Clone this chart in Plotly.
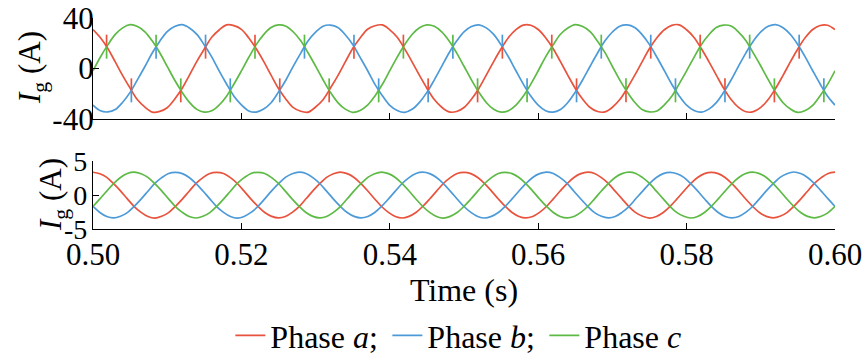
import numpy as np
import plotly.graph_objects as go

# ---------------- data ----------------
# Upper panel: grid current, 50 Hz, sampled every 1 ms from 0.50 s to 0.60 s
t_top = np.round(0.5 + np.arange(101) * 0.001, 4)

ia_top = [30.8, 24.3, 15.9, 5.2, -5.6, -15.5, -24.8, -30.6, -34.5, -34.0, -31.1, -24.3, -15.9, -5.2, 5.7, 15.4, 24.8, 30.5, 34.6, 34.0,
          31.0, 24.2, 15.6, 5.6, -5.3, -15.9, -24.3, -31.0, -33.9, -34.6, -30.5, -24.7, -15.5, -5.6, 5.2, 15.9, 24.2, 31.1, 33.9, 34.5,
          30.6, 24.7, 15.5, 5.3, -5.5, -15.6, -24.6, -30.7, -34.4, -34.1, -30.9, -24.4, -15.8, -5.3, 5.5, 15.6, 24.6, 30.8, 34.4, 34.3,
          30.9, 24.4, 15.8, 5.4, -5.4, -15.8, -24.4, -30.9, -34.1, -34.4, -30.7, -24.6, -15.6, -5.5, 5.3, 15.8, 24.4, 30.7, 34.2, 34.6,
          30.7, 24.6, 15.6, 5.5, -5.2, -15.7, -24.5, -30.8, -34.3, -34.2, -30.8, -24.5, -15.7, -5.4, 5.4, 15.7, 24.5, 30.9, 34.1, 34.3,
          30.8]
ib_top = [-29.0, -33.5, -34.4, -32.5, -26.7, -18.9, -8.8, 1.6, 12.5, 21.6, 29.2, 33.2, 34.7, 32.1, 27.0, 18.6, 9.2, -1.9, -12.3, -21.9,
          -28.8, -33.6, -34.5, -32.1, -27.1, -18.6, -9.1, 1.9, 12.2, 22.0, 28.8, 33.5, 34.4, 32.5, 26.7, 19.0, 8.8, -1.6, -12.6, -21.6,
          -29.2, -33.2, -34.7, -32.3, -26.8, -18.9, -9.0, 1.7, 12.5, 21.7, 29.1, 33.3, 34.6, 32.2, 27.0, 18.7, 9.1, -1.8, -12.4, -21.8,
          -29.0, -33.4, -34.5, -32.4, -26.9, -18.7, -8.9, 1.8, 12.3, 21.9, 28.9, 33.5, 34.5, 32.4, 26.8, 18.9, 8.9, -1.7, -12.5, -21.7,
          -29.1, -33.3, -34.6, -32.2, -27.0, -18.8, -9.1, 1.9, 12.4, 21.8, 29.0, 33.4, 34.7, 32.3, 26.9, 18.8, 9.0, -1.8, -12.3, -21.9,
          -29.0]
ic_top = [-1.8, 9.1, 18.7, 27.0, 32.2, 34.7, 33.3, 29.1, 21.7, 12.5, 1.7, -9.1, -18.7, -26.8, -32.4, -34.5, -33.5, -28.9, -21.9, -12.3,
          -1.9, 8.9, 18.9, 26.8, 32.4, 34.5, 33.5, 28.9, 21.9, 12.3, 1.9, -8.9, -18.9, -27.0, -32.2, -34.7, -33.3, -29.1, -21.7, -12.5,
          -1.7, 9.0, 18.8, 26.9, 32.3, 34.6, 33.4, 29.0, 21.8, 12.4, 1.8, -9.0, -18.8, -26.9, -32.3, -34.6, -33.4, -29.0, -21.8, -12.4,
          -1.8, 9.2, 18.6, 27.1, 32.1, 34.8, 33.2, 29.2, 21.6, 12.6, 1.6, -9.2, -18.6, -26.7, -32.5, -34.4, -33.6, -28.8, -22.0, -12.2,
          -1.9, 8.8, 19.0, 26.7, 32.5, 34.4, 33.6, 28.8, 22.0, 12.2, 2.0, -8.8, -19.0, -27.1, -32.1, -34.8, -33.2, -29.2, -21.6, -12.6,
          -1.8]

# switching spikes at the phase crossings of the upper panel
spike_t = [0.50183, 0.50517, 0.50850, 0.51183, 0.51517, 0.51850, 0.52183, 0.52517, 0.52850, 0.53183,
           0.53517, 0.53850, 0.54183, 0.54517, 0.54850, 0.55183, 0.55517, 0.55850, 0.56183, 0.56517,
           0.56850, 0.57183, 0.57517, 0.57850, 0.58183, 0.58517, 0.58850, 0.59183, 0.59517, 0.59850]
spike_level = [17.3, -17.3] * 15
spike_up = ["a", "a", "c", "c", "b", "b"] * 5     # phase whose spike points upward
spike_down = ["c", "b", "b", "a", "a", "c"] * 5   # phase whose spike points downward

# Lower panel: 60 Hz current, sampled every 1/1080 s from 0.50 s to 0.60 s
t_bot = np.linspace(0.5, 0.6, 109)
ia_bot = [3.35, 3.13, 2.59, 1.66, 0.60, -0.57, -1.70, -2.55, -3.17, -3.40, -3.13, -2.59, -1.66, -0.60, 0.56, 1.70, 2.55, 3.17,
          3.32, 3.16, 2.56, 1.69, 0.57, -0.60, -1.66, -2.58, -3.14, -3.36, -3.17, -2.55, -1.70, -0.56, 0.60, 1.66, 2.59, 3.13,
          3.37, 3.14, 2.58, 1.67, 0.59, -0.58, -1.69, -2.56, -3.16, -3.38, -3.14, -2.58, -1.67, -0.59, 0.57, 1.69, 2.56, 3.16,
          3.33, 3.15, 2.57, 1.68, 0.58, -0.59, -1.67, -2.57, -3.15, -3.37, -3.16, -2.56, -1.69, -0.57, 0.59, 1.67, 2.58, 3.14,
          3.36, 3.17, 2.55, 1.70, 0.56, -0.56, -1.70, -2.59, -3.13, -3.39, -3.15, -2.57, -1.68, -0.58, 0.58, 1.68, 2.57, 3.15,
          3.34, 3.14, 2.58, 1.67, 0.59, -0.59, -1.67, -2.58, -3.14, -3.35, -3.13, -2.59, -1.66, -0.60, 0.56, 1.70, 2.55, 3.17,
          3.35]
ib_bot = [-1.68, -2.57, -3.17, -3.37, -3.13, -2.59, -1.66, -0.60, 0.56, 1.70, 2.55, 3.17, 3.33, 3.15, 2.58, 1.67, 0.59, -0.57,
          -1.70, -2.55, -3.16, -3.39, -3.15, -2.56, -1.69, -0.57, 0.60, 1.66, 2.59, 3.13, 3.36, 3.16, 2.56, 1.69, 0.57, -0.60,
          -1.67, -2.58, -3.14, -3.36, -3.16, -2.57, -1.68, -0.59, 0.57, 1.69, 2.56, 3.16, 3.35, 3.14, 2.57, 1.68, 0.58, -0.58,
          -1.69, -2.56, -3.15, -3.38, -3.14, -2.58, -1.67, -0.58, 0.59, 1.67, 2.58, 3.14, 3.37, 3.17, 2.55, 1.70, 0.56, -0.59,
          -1.66, -2.59, -3.13, -3.35, -3.17, -2.55, -1.70, -0.56, 0.58, 1.68, 2.57, 3.15, 3.34, 3.13, 2.59, 1.66, 0.60, -0.56,
          -1.68, -2.57, -3.16, -3.36, -3.15, -2.56, -1.69, -0.57, 0.60, 1.66, 2.59, 3.13, 3.38, 3.15, 2.57, 1.68, 0.58, -0.58,
          -1.68]
ic_bot = [-1.68, -0.58, 0.58, 1.68, 2.57, 3.15, 3.36, 3.13, 2.59, 1.66, 0.60, -0.57, -1.70, -2.55, -3.17, -3.38, -3.13, -2.59,
          -1.66, -0.60, 0.56, 1.70, 2.55, 3.17, 3.33, 3.16, 2.56, 1.69, 0.57, -0.60, -1.66, -2.58, -3.14, -3.36, -3.17, -2.55,
          -1.70, -0.56, 0.60, 1.66, 2.59, 3.13, 3.37, 3.14, 2.58, 1.67, 0.59, -0.58, -1.69, -2.56, -3.16, -3.39, -3.14, -2.58,
          -1.67, -0.59, 0.57, 1.69, 2.56, 3.16, 3.34, 3.15, 2.57, 1.68, 0.58, -0.59, -1.67, -2.57, -3.15, -3.37, -3.16, -2.56,
          -1.69, -0.57, 0.59, 1.67, 2.58, 3.14, 3.35, 3.17, 2.55, 1.70, 0.56, -0.56, -1.70, -2.59, -3.13, -3.38, -3.15, -2.57,
          -1.68, -0.58, 0.58, 1.68, 2.57, 3.15, 3.36, 3.14, 2.58, 1.67, 0.59, -0.59, -1.67, -2.58, -3.14, -3.35, -3.13, -2.59,
          -1.68]

phases = ["a", "b", "c"]
names = ["Phase <i>a</i>;", "Phase <i>b</i>;", "Phase <i>c</i>"]
x_ticks = [0.50, 0.52, 0.54, 0.56, 0.58, 0.60]
x_ticktext = ["0.50", "0.52", "0.54", "0.56", "0.58", "0.60"]
y_top_ticks = [-40, 0, 40]
y_top_text = ["-40", "0", "40"]
y_bot_ticks = [-5, 0, 5]
y_bot_text = ["-5", "0", "5"]
y_title = "<i>I</i><sub>g</sub> (A)"
x_title = "Time (s)"

# ---------------- styling ----------------
colors = {"a": "#E8533D", "b": "#4D9AD8", "c": "#5DBA45"}
FONT = "Liberation Serif"
FS = 31
LW = 1.7
SPIKE_LEN = 9.5

fig = go.Figure()

top_series = {"a": ia_top, "b": ib_top, "c": ic_top}
bot_series = {"a": ia_bot, "b": ib_bot, "c": ic_bot}

for p, nm in zip(phases, names):
    fig.add_trace(go.Scatter(x=t_top, y=top_series[p], mode="lines", name=nm,
                             line=dict(color=colors[p], width=LW, shape="spline"),
                             xaxis="x", yaxis="y", showlegend=True, legendgroup=p))

# spikes
for p in phases:
    xs, ys = [], []
    for t, lev, up, dn in zip(spike_t, spike_level, spike_up, spike_down):
        if up == p:
            xs += [t, t, None]
            ys += [lev, lev + SPIKE_LEN, None]
        if dn == p:
            xs += [t, t, None]
            ys += [lev, lev - SPIKE_LEN, None]
    fig.add_trace(go.Scatter(x=xs, y=ys, mode="lines", showlegend=False,
                             line=dict(color=colors[p], width=LW),
                             xaxis="x", yaxis="y", legendgroup=p))

for p in phases:
    fig.add_trace(go.Scatter(x=t_bot, y=bot_series[p], mode="lines", showlegend=False,
                             line=dict(color=colors[p], width=LW, shape="spline"),
                             xaxis="x2", yaxis="y2", legendgroup=p))


def axis_common(size=FS):
    return dict(showline=True, linecolor="black", linewidth=1.3, ticks="inside",
                ticklen=6, tickwidth=1.3, tickcolor="black", showgrid=False,
                zeroline=False, automargin=False,
                tickfont=dict(family=FONT, size=size, color="black"))


L, R, T, B = 93, 29, 18, 129
W, H = 864 - L - R, 358 - T - B

fig.update_layout(
    width=864, height=358,
    margin=dict(l=L, r=R, t=T, b=B),
    paper_bgcolor="white", plot_bgcolor="white",
    font=dict(family=FONT, size=FS, color="black"),
    showlegend=True,
    legend=dict(orientation="h", xref="paper", x=0.5025, xanchor="center",
                yref="container", y=1 - 308 / 358, yanchor="top",
                font=dict(family=FONT, size=32, color="black"), bgcolor="rgba(0,0,0,0)",
                itemwidth=30, tracegroupgap=0, entrywidth=112, entrywidthmode="pixels"),
    xaxis=dict(domain=[0, 1], range=[0.5, 0.6], anchor="y", tickvals=x_ticks,
               showticklabels=False, **axis_common()),
    yaxis=dict(domain=[(229 - 119) / H, 1], range=[-40, 40], anchor="x",
               tickvals=y_top_ticks, ticktext=y_top_text, ticklabelstandoff=-8,
               **axis_common()),
    xaxis2=dict(domain=[0, 1], range=[0.5, 0.6], anchor="y2", tickvals=x_ticks,
                ticktext=x_ticktext, ticklabelstandoff=-2,
                title=dict(text=x_title, font=dict(family=FONT, size=32), standoff=19),
                **axis_common()),
    yaxis2=dict(domain=[0, 68 / H], range=[-5, 5], anchor="x2",
                tickvals=y_bot_ticks, ticktext=y_bot_text, ticklabelstandoff=-1,
                **axis_common(28)),
)

# y-axis titles (rotated), placed next to each panel
for cx, cy in [(32, 68), (53, 195)]:
    fig.add_annotation(text=y_title, xref="paper", yref="paper",
                       x=(cx - L) / W, y=(T + H - cy) / H, xanchor="center", yanchor="middle",
                       textangle=-90, showarrow=False,
                       font=dict(family=FONT, size=FS, color="black"))

fig.write_html("out.html", config={"displayModeBar": False},
               post_script="document.body.style.margin='0px';")
